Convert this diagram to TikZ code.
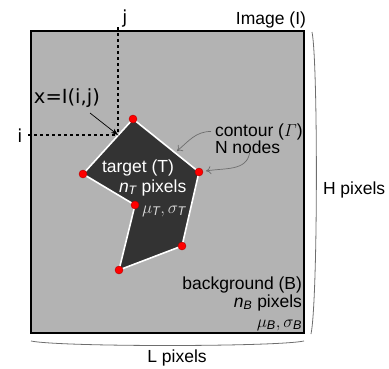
\documentclass[tikz,border=0pt]{standalone}
\usepackage{amsmath}
\usepackage{fontspec}
\setmainfont{Liberation Sans}
\newfontfamily\labelfont{DejaVu Sans}
\usetikzlibrary{arrows.meta,positioning,calc}
\definecolor{imggray}{RGB}{179,179,179}
\definecolor{targetgray}{RGB}{51,51,51}
\definecolor{bracegray}{RGB}{110,110,110}
\definecolor{dotred}{RGB}{255,0,0}

\begin{document}
\begin{tikzpicture}[x=1pt, y=-1pt, font=\fontsize{17.5}{20}\selectfont]
\tikzstyle{txt} = [inner sep=0pt, outer sep=0pt]
\tikzstyle{wtxt} = [txt, text=white]
\tikzstyle{stat} = [txt, font=\fontsize{18}{21}\selectfont]
\tikzstyle{ijtxt} = [txt, font=\labelfont\fontsize{18}{20}\selectfont]
\tikzstyle{dot} = [circle, fill=dotred, draw=red!70!black, line width=0.4pt, minimum size=8pt, inner sep=0pt]
\tikzstyle{guide} = [dashed, line width=1.2pt, dash pattern=on 3pt off 3pt]
\tikzstyle{bracket} = [bracegray, line width=0.8pt]
\tikzstyle{note} = [bracegray, line width=0.7pt, -{To[length=5pt,width=8pt]}]

\useasboundingbox (0,0) rectangle (389,368);

\draw[fill=imggray, line width=2pt] (31,31) rectangle (304,333);

\coordinate (p1) at (133,119);
\coordinate (p2) at (199,172);
\coordinate (p3) at (182,246);
\coordinate (p4) at (119,270);
\coordinate (p5) at (135,205);
\coordinate (p6) at (83,174);
\filldraw[fill=targetgray, draw=white, line width=1.6pt, line join=round]
  (p1) -- (p2) -- (p3) -- (p4) -- (p5) -- (p6) -- cycle;
\foreach \k in {1,...,6}
  \node (d\k) [dot] at (p\k) {};

\coordinate (pix) at (118,135);
\coordinate (jtop) at (118,27);
\coordinate (ileft) at (28,135);
\draw [guide] (jtop) -- (pix);
\draw [guide] (ileft) -- (pix);
\node (jlbl) [ijtxt, anchor=base] at (125,23) {j};
\node (ilbl) [ijtxt, anchor=base] at (20,142) {i};
\node (xlbl) [ijtxt, anchor=base west, font=\labelfont\fontsize{19.5}{22}\selectfont] at (34,103) {x=I(i,j)};
\coordinate (xtail) at (90,113);
\draw [-{Stealth[length=7pt,width=5pt]}, line width=0.7pt] (xtail) -- (pix);

\node (image) [txt, anchor=base east] at (306,24) {Image (I)};

\node (contour) [txt, anchor=base west] at (215,136) {contour ($\varGamma$)};
\node (nnodes) [txt, anchor=base west] at (215,153) {N nodes};
\coordinate (edge) at (177,151);
\draw [note] (contour.west) ++(-4,0) to[out=180, in=40] (edge);
\draw [note] (nnodes.south) ++(2,0) to[out=-100, in=10] ($(d2)+(7,-1)$);

\node (target) [wtxt, anchor=base] at (138,172) {target (T)};
\node (ntpix) [wtxt, anchor=base west] at (119,192) {\textit{n}$_{\mathit{T}}$ pixels};
\node (mut) [stat, text=white!85!black, anchor=base west] at (142,213) {$\mu_{\mathit{T}},\sigma_{\mathit{T}}$};

\node (backg) [txt, anchor=base east] at (302,289) {background (B)};
\node (nbpix) [txt, anchor=base east] at (302,307) {\textit{n}$_{\mathit{B}}$ pixels};
\node (mub) [stat, anchor=base east] at (302,327) {$\mu_{\mathit{B}},\sigma_{\mathit{B}}$};

\coordinate (rb1) at (312,32);
\coordinate (rb2) at (311,334);
\draw [bracket] (rb1) .. controls (318,60) and (318,300) .. (rb2);
\node (hpix) [txt, anchor=base west] at (323,194) {H pixels};

\coordinate (bb1) at (31,341);
\coordinate (bb2) at (304,341);
\draw [bracket] (bb1) .. controls (60,347) and (275,347) .. (bb2);
\node (lpix) [txt, anchor=base] at (177,362) {L pixels};
\end{tikzpicture}
\end{document}
